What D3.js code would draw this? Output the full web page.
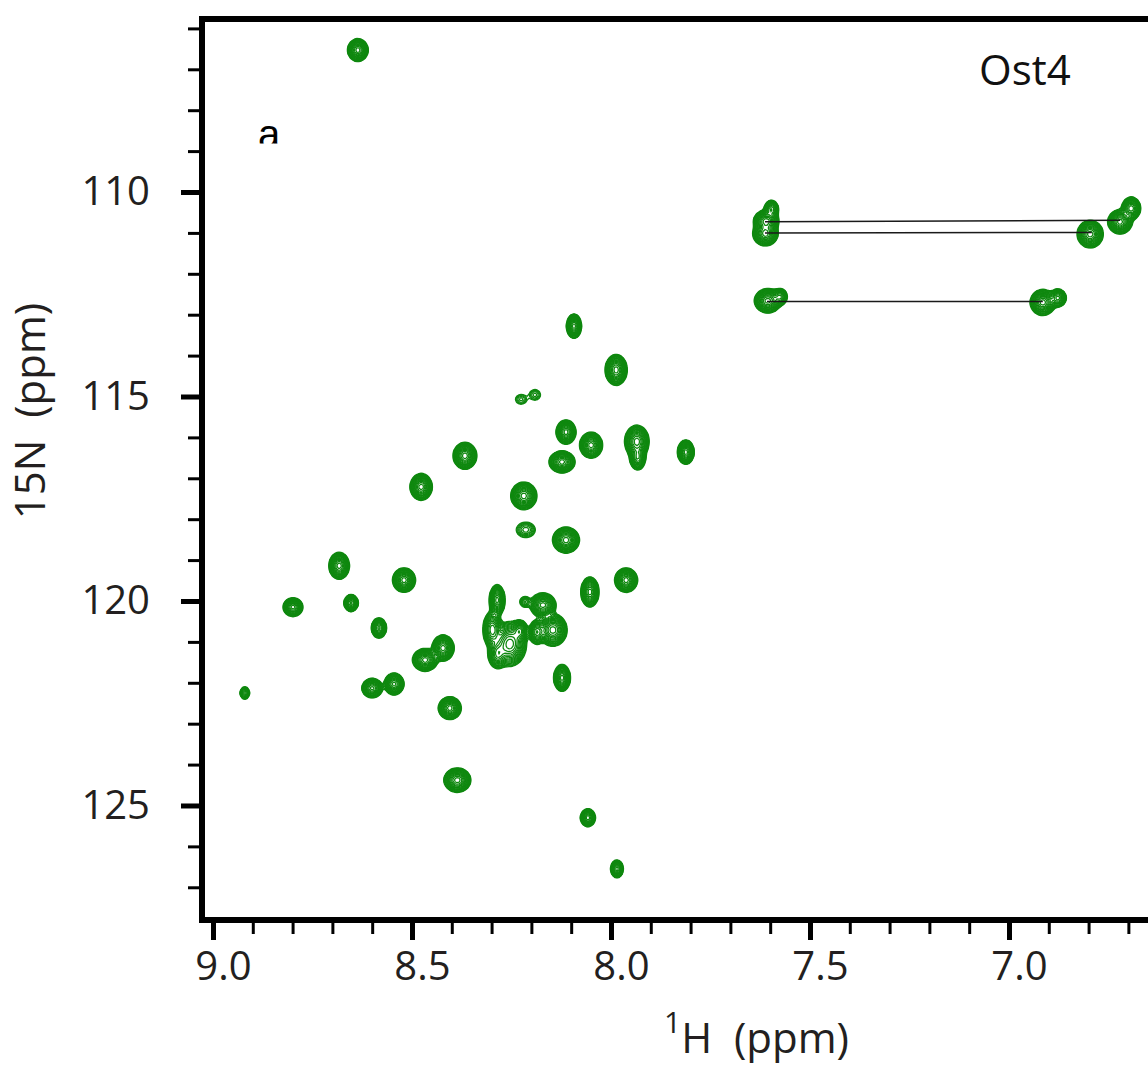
<!DOCTYPE html>
<meta charset="utf-8">
<style>
body { margin: 0; background: #fff; }
svg { display: block; }
.axis path.domain { display: none; }
.axis text { font-family: "Open Sans", sans-serif; font-size: 40px; fill: #231f20; }
.frame { stroke: #000; stroke-width: 6px; }
.peak { fill: none; stroke: #0f880f; stroke-width: 1.25px; }
.link { stroke: #1a1a1a; stroke-width: 1.5px; }
.title { font-family: "Open Sans", sans-serif; font-size: 42px; fill: #231f20; }
</style>
<svg id="hsqc" width="1148" height="1065"></svg>
<script src="https://cdn.jsdelivr.net/npm/d3@7/dist/d3.min.js"></script>
<script>
// axis ticks
var xMajor = [9.0, 8.5, 8.0, 7.5, 7.0];
var xLabels = ["9.0", "8.5", "8.0", "7.5", "7.0"];
var xMinor = [8.9, 8.8, 8.7, 8.6, 8.4, 8.3, 8.2, 8.1, 7.9, 7.8, 7.7, 7.6, 7.4, 7.3, 7.2, 7.1, 6.9, 6.8, 6.7];
var yMajor = [110, 115, 120, 125];
var yLabels = ["110", "115", "120", "125"];
var yMinor = [106, 107, 108, 109, 111, 112, 113, 114, 116, 117, 118, 119, 121, 122, 123, 124, 126, 127];

// peak list: 1H shift, 15N shift, half width at lowest contour (ppm), relative height
var peakH = [8.636, 8.920, 8.799, 8.683, 8.653, 8.583, 8.520, 8.477, 8.367, 8.600,
             8.545, 8.467, 8.422, 8.405, 8.386, 8.286, 8.254, 8.298, 8.229, 8.216,
             8.171, 8.146, 8.186, 8.123, 8.093, 7.987, 8.226, 8.191, 8.113, 8.123,
             8.050, 7.935, 7.933, 7.812, 8.219, 8.214, 8.113, 8.053, 7.962, 8.058,
             7.985, 7.610, 7.612, 7.597, 6.796, 6.721, 6.693, 7.606, 7.575, 6.915,
             6.877, 8.285];
var peakN = [106.53, 122.25, 120.15, 119.14, 120.05, 120.66, 119.49, 117.21, 116.45, 122.13,
             122.03, 121.44, 121.15, 122.62, 124.38, 119.98, 121.05, 120.70, 120.73, 120.02,
             120.10, 120.71, 120.76, 121.88, 113.28, 114.35, 115.07, 114.96, 115.87, 116.60,
             116.19, 116.10, 116.50, 116.36, 117.43, 118.26, 118.51, 119.78, 119.49, 125.30,
             126.55, 110.71, 111.02, 110.42, 111.03, 110.73, 110.40, 112.66, 112.56, 112.70,
             112.59, 121.30];
var peakDH = [0.026, 0.012, 0.025, 0.026, 0.018, 0.019, 0.029, 0.028, 0.030, 0.026,
              0.025, 0.032, 0.028, 0.029, 0.034, 0.020, 0.042, 0.024, 0.020, 0.013,
              0.033, 0.036, 0.020, 0.021, 0.019, 0.028, 0.014, 0.014, 0.025, 0.033,
              0.029, 0.031, 0.020, 0.021, 0.033, 0.024, 0.034, 0.023, 0.029, 0.019,
              0.016, 0.032, 0.032, 0.018, 0.033, 0.031, 0.024, 0.034, 0.018, 0.032,
              0.021, 0.024];
var peakDN = [0.28, 0.15, 0.23, 0.33, 0.21, 0.25, 0.30, 0.33, 0.33, 0.24,
              0.27, 0.28, 0.32, 0.28, 0.30, 0.38, 0.55, 0.45, 0.26, 0.13,
              0.30, 0.40, 0.30, 0.33, 0.30, 0.38, 0.12, 0.13, 0.30, 0.27,
              0.32, 0.40, 0.30, 0.30, 0.34, 0.19, 0.32, 0.37, 0.30, 0.22,
              0.22, 0.27, 0.30, 0.22, 0.34, 0.30, 0.28, 0.30, 0.20, 0.32,
              0.22, 0.35];
var peakAmp = [1, 0.3, 1, 1, 0.8, 0.8, 1, 1, 1, 0.8,
               0.8, 1, 1, 1, 1, 1, 1, 0.7, 0.6, 0.2,
               1, 1, 0.6, 1, 1, 1, 0.12, 0.12, 1, 1,
               1, 1, 0.6, 1, 1, 0.18, 1, 1, 1, 0.7,
               0.7, 1, 1, 0.5, 1, 1, 0.7, 1, 0.5, 1,
               0.55, 0.6];

// NH2 side chain pairs
var linkH1 = [7.613, 7.613, 7.608];
var linkN1 = [110.73, 111.00, 112.68];
var linkH2 = [6.721, 6.792, 6.915];
var linkN2 = [110.69, 110.99, 112.68];

var svg = d3.select("#hsqc");
var margin = {top: 19, left: 202},
    width = 1148 - margin.left,
    height = 920 - margin.top;

var x = d3.scaleLinear().domain([9.0276, 6.6507]).range([margin.left, margin.left + width]);
var y = d3.scaleLinear().domain([105.77, 127.80]).range([margin.top, margin.top + height]);

svg.append("defs").append("clipPath").attr("id", "plotclip")
  .append("rect").attr("x", margin.left + 3).attr("y", margin.top + 3)
  .attr("width", width).attr("height", height - 6);

// spectrum on a pixel grid, then contoured
var base = 0.05;
var levels = d3.range(16).map(function(k) { return base * Math.pow(1.21, k); });
var step = 2;
var nx = Math.ceil(width / step), ny = Math.ceil(height / step);
var gx = d3.range(nx).map(function(i) { return x.invert(margin.left + (i + 0.5) * step); });
var gy = d3.range(ny).map(function(j) { return y.invert(margin.top + (j + 0.5) * step); });
var grid = new Float64Array(nx * ny);

peakH.forEach(function(h, k) {
  var n = peakN[k], a = peakAmp[k];
  var f = Math.sqrt(2 * Math.log(a / base));
  var sh = peakDH[k] / f, sn = peakDN[k] / f;
  var i0 = Math.max(0, Math.floor((x(h + 4 * sh) - margin.left) / step)),
      i1 = Math.min(nx - 1, Math.ceil((x(h - 4 * sh) - margin.left) / step)),
      j0 = Math.max(0, Math.floor((y(n - 4 * sn) - margin.top) / step)),
      j1 = Math.min(ny - 1, Math.ceil((y(n + 4 * sn) - margin.top) / step));
  for (var j = j0; j <= j1; j++) {
    var dy = (gy[j] - n) / sn;
    for (var i = i0; i <= i1; i++) {
      var dx = (gx[i] - h) / sh;
      grid[j * nx + i] += a * Math.exp(-0.5 * (dx * dx + dy * dy));
    }
  }
});

var contours = d3.contours().size([nx, ny]).thresholds(levels)(grid);
var path = d3.geoPath(d3.geoIdentity().scale(step));

var plot = svg.append("g").attr("clip-path", "url(#plotclip)");
plot.append("g")
    .attr("transform", "translate(" + margin.left + "," + margin.top + ")")
  .selectAll("path")
  .data(contours)
  .enter().append("path")
    .attr("class", "peak")
    .attr("d", path);

plot.selectAll("line.link")
  .data(linkH1)
  .enter().append("line")
    .attr("class", "link")
    .attr("x1", function(d) { return x(d); })
    .attr("y1", function(d, i) { return y(linkN1[i]); })
    .attr("x2", function(d, i) { return x(linkH2[i]); })
    .attr("y2", function(d, i) { return y(linkN2[i]); });

// axes
var axisBottomY = 923, axisLeftX = 199;
svg.append("g").attr("class", "axis")
    .attr("transform", "translate(0," + axisBottomY + ")")
    .call(d3.axisBottom(x).tickValues(xMinor).tickSize(11).tickFormat(""))
  .selectAll("line").attr("stroke-width", 3);
var xa = svg.append("g").attr("class", "axis")
    .attr("transform", "translate(0," + axisBottomY + ")")
    .call(d3.axisBottom(x).tickValues(xMajor).tickSize(17).tickPadding(12)
      .tickFormat(function(d, i) { return xLabels[i]; }));
xa.selectAll("line").attr("stroke-width", 5);
xa.selectAll("text").attr("dx", 10);

svg.append("g").attr("class", "axis")
    .attr("transform", "translate(" + axisLeftX + ",0)")
    .call(d3.axisLeft(y).tickValues(yMinor).tickSize(11).tickFormat(""))
  .selectAll("line").attr("stroke-width", 3);
var ya = svg.append("g").attr("class", "axis")
    .attr("transform", "translate(" + axisLeftX + ",0)")
    .call(d3.axisLeft(y).tickValues(yMajor).tickSize(18).tickPadding(31)
      .tickFormat(function(d, i) { return yLabels[i]; }));
ya.selectAll("line").attr("stroke-width", 5);

// frame
svg.append("line").attr("class", "frame")
    .attr("x1", margin.left).attr("x2", margin.left).attr("y1", 16).attr("y2", 923);
svg.append("line").attr("class", "frame")
    .attr("x1", 199).attr("x2", 1148).attr("y1", margin.top).attr("y2", margin.top);
svg.append("line").attr("class", "frame")
    .attr("x1", 199).attr("x2", 1148).attr("y1", 920).attr("y2", 920);

// titles
var xt = svg.append("text").attr("class", "title").attr("x", 664).attr("y", 1053);
xt.append("tspan").attr("font-size", "30px").attr("dy", -20).text("1");
xt.append("tspan").attr("dy", 20).text("H\u00a0\u00a0(ppm)");

svg.append("text").attr("class", "title")
    .attr("transform", "translate(45,411) rotate(-90)")
    .attr("text-anchor", "middle")
    .text("15N\u00a0\u00a0(ppm)");

svg.append("text").attr("class", "title")
    .attr("x", 979).attr("y", 85).style("fill", "#111")
    .text("Ost4");

svg.append("defs").append("clipPath").attr("id", "aclip")
  .append("rect").attr("x", 240).attr("y", 100).attr("width", 60).attr("height", 43.5);
svg.append("text")
    .attr("clip-path", "url(#aclip)")
    .attr("x", 258).attr("y", 147.5)
    .style("font-family", "Liberation Sans, Arial, sans-serif")
    .style("font-size", "40px")
    .text("a");
</script>
